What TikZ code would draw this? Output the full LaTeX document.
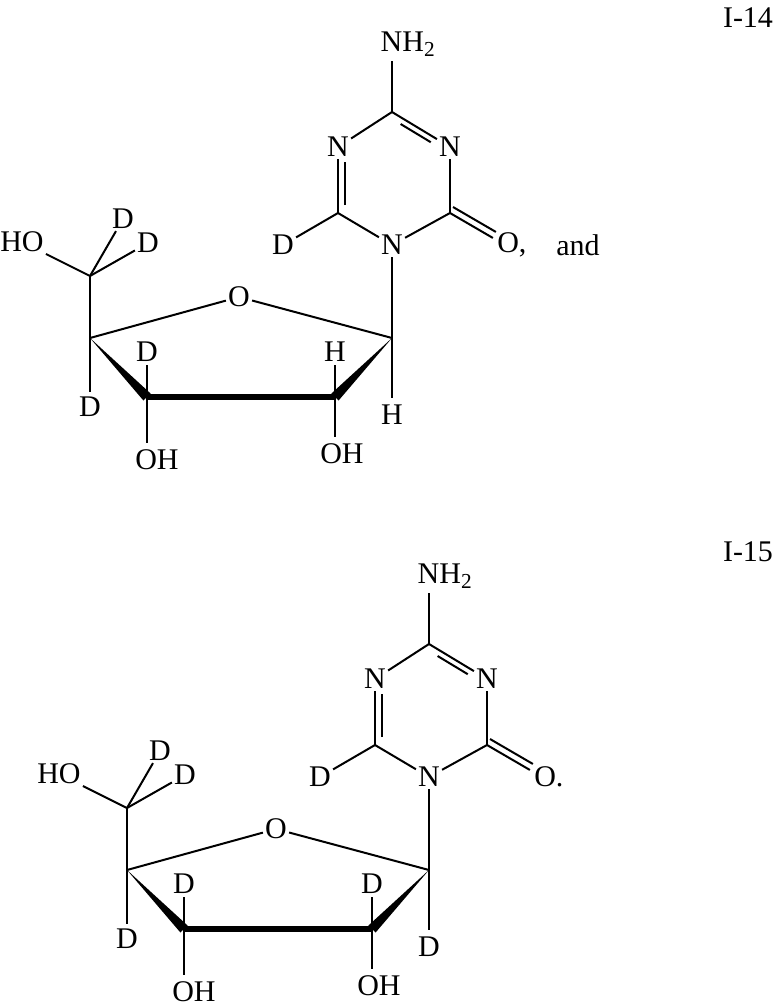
\documentclass[tikz,border=0pt]{standalone}
\usepackage{fontspec}
\setmainfont{Liberation Serif}
\usetikzlibrary{calc}
\tikzset{
  lbl/.style={inner sep=1.5pt,font=\fontsize{22.5}{25}\selectfont},
  bd/.style={line width=1.5pt},
  pt/.style={coordinate}
}
\newcommand\mol[5]{%
 \begin{scope}[shift={(#2,#3)}]
  \coordinate (#1c4) at (392,112);
  \coordinate (#1n3c) at (450,147);
  \coordinate (#1c2) at (450,213);
  \coordinate (#1n1c) at (392,245);
  \coordinate (#1c6) at (338,213);
  \coordinate (#1n5c) at (338,147);
  \node[lbl] (#1nh) at (408,44) {NH$_{\mbox{\fontsize{16}{17}\selectfont 2}}$};
  \coordinate (#1nhe) at (392,61);
  \node[lbl] (#1n3) at (#1n3c) {N};
  \node[lbl] (#1n5) at (#1n5c) {N};
  \node[lbl] (#1n1) at (#1n1c) {N};
  \node[lbl] (#1d6) at (283,245) {D};
  \coordinate (#1oc) at (505,245);
  \coordinate (#1c5) at (90,276);
  \node[lbl] (#1ho) at (22,242) {HO};
  \node[lbl] (#1da) at (123,219) {D};
  \node[lbl] (#1db) at (148,243) {D};
  \node[lbl] (#1or) at (239,297) {O};
  \coordinate (#1c4p) at (90,338);
  \coordinate (#1c3p) at (147,397);
  \coordinate (#1c2p) at (335,397);
  \coordinate (#1c1p) at (392,338);
  \node[lbl] (#1d3) at (147,352) {D};
  \node[lbl] (#1d4) at (90,407) {D};
  \node[lbl] (#1h2) at (335,352) {#4};
  \node[lbl] (#1h1) at (392,415) {#5};
  \node[lbl] (#1oh3) at (157,460) {OH};
  \node[lbl] (#1oh2) at (342,454) {OH};
  \draw[bd] (#1c4) -- (#1nhe);
  \draw[bd] (#1c4) -- (#1n3);
  \draw[bd] ($(#1c4)!0.2!(#1n3c)+(-3,5)$) -- ($(#1c4)!0.72!(#1n3c)+(-3,5)$);
  \draw[bd] (#1n3) -- (#1c2);
  \draw[bd] (#1c2) -- (#1n1);
  \draw[bd] (#1n1) -- (#1c6);
  \draw[bd] (#1c6) -- (#1n5);
  \draw[bd] ($(#1c6)+(7,-8)$) -- ($(#1n5c)+(7,15)$);
  \draw[bd] (#1n5) -- (#1c4);
  \draw[bd] (#1c6) -- (#1d6);
  \draw[bd] (#1c2) -- ($(#1c2)!0.78!(#1oc)$);
  \draw[bd] ($(#1c2)+(3,-6)$) -- ($(#1c2)!0.78!(#1oc)+(3,-6)$);
  \draw[bd] (#1n1) -- (#1c1p);
  \draw[bd] (#1c5) -- (#1ho);
  \draw[bd] (#1c5) -- (#1da);
  \draw[bd] (#1c5) -- (#1db);
  \draw[bd] (#1c5) -- (#1c4p);
  \draw[bd] (#1c4p) -- (#1or);
  \draw[bd] (#1or) -- (#1c1p);
  \draw[bd] (#1c4p) -- ++(0,54);
  \fill (#1c4p) -- ($(#1c3p)+(3.6,-3.5)$) -- ($(#1c3p)+(-3.6,3.5)$) -- cycle;
  \fill (#1c1p) -- ($(#1c2p)+(3.6,3.5)$) -- ($(#1c2p)+(-3.6,-3.5)$) -- cycle;
  \draw[line width=5pt] (#1c3p) -- (#1c2p);
  \draw[bd] (#1c3p) -- ++(0,-32);
  \draw[bd] (#1c3p) -- ++(0,46);
  \draw[bd] (#1c2p) -- ++(0,-32);
  \draw[bd] (#1c2p) -- ++(0,40);
  \draw[bd] (#1c1p) -- ++(0,60);
 \end{scope}}
\begin{document}
\begin{tikzpicture}[x=0.75pt,y=-0.75pt]
\useasboundingbox (0,0) rectangle (774,1007);
\mol{a}{0}{0}{H}{H}
\node[lbl,anchor=west] (ao) at (495,245) {O,};
\node[lbl] (and) at (578,245) {and};
\node[lbl] (l14) at (748,18) {I-14};
\mol{b}{37}{532}{D}{D}
\node[lbl,anchor=west] (bo) at (532,777) {O.};
\node[lbl] (l15) at (748,552) {I-15};
\end{tikzpicture}
\end{document}
